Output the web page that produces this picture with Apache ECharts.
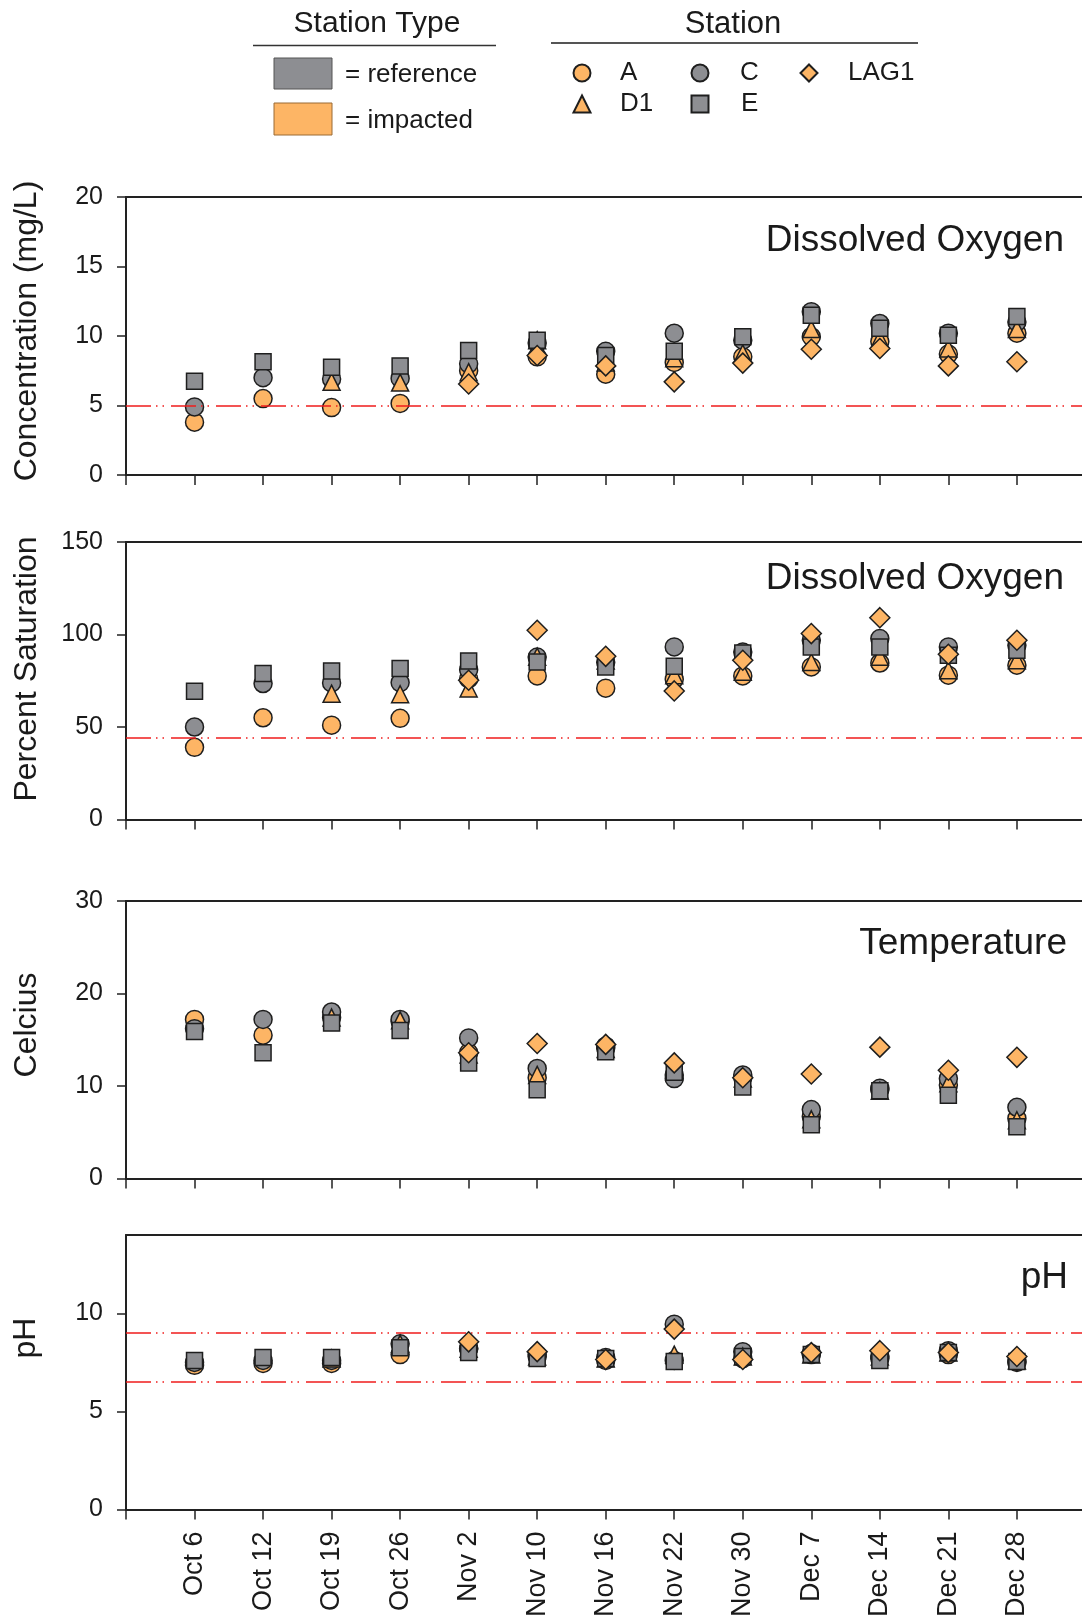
<!DOCTYPE html>
<html><head><meta charset="utf-8">
<script src="https://cdn.jsdelivr.net/npm/echarts@6/dist/echarts.min.js"></script>
<style>html,body{margin:0;padding:0;background:#fff}#c{width:1082px;height:1620px}</style>
</head><body><div id="c"></div>
<script>
// ---------- data ----------
const dates = ['Oct 6','Oct 12','Oct 19','Oct 26','Nov 2','Nov 10','Nov 16','Nov 22','Nov 30','Dec 7','Dec 14','Dec 21','Dec 28'];
const stations = ['A','C','D1','E','LAG1'];
const panelTitles = ['Dissolved Oxygen','Dissolved Oxygen','Temperature','pH'];
const axisTitles = ['Concentration (mg/L)','Percent Saturation','Celcius','pH'];
const yMax = [20, 150, 30, 14];
const yInterval = [5, 50, 10, 5];
const yTickValues = [[0,5,10,15,20],[0,50,100,150],[0,10,20,30],[0,5,10]];
const thresholds = [[5],[44],[],[9,6.5]];

// Dissolved oxygen, mg/L
const doA    = [3.8, 5.5, 4.85, 5.15, 7.5, 8.5, 7.25, 8.1, 8.5, 9.95, 9.6, 8.7, 10.2];
const doC    = [4.9, 7.0, 6.9, 6.95, 8.0, 9.5, 8.9, 10.2, 9.7, 11.75, 10.9, 10.2, 11.0];
const doD1   = [null, null, 6.7, 6.65, 7.4, 9.7, 8.1, 8.4, 8.75, 10.5, 9.8, 9.1, 10.5];
const doE    = [6.75, 8.15, 7.75, 7.85, 8.95, 9.7, 8.6, 8.9, 9.95, 11.5, 10.55, 10.05, 11.4];
const doLAG1 = [null, null, null, null, 6.55, 8.6, 7.85, 6.7, 8.05, 9.05, 9.1, 7.85, 8.15];
// Dissolved oxygen, % saturation
const satA    = [39, 55, 51, 54.7, 76, 77.6, 71, 75.8, 77.6, 82.5, 84.6, 78, 83.4];
const satC    = [50, 73.5, 73.8, 74, 81, 87.8, 85, 93.3, 90.5, 96.9, 97.8, 93.3, 94.2];
const satD1   = [null, null, 68, 67.7, 70.8, 88, 86, 78, 79.8, 85.1, 88, 80.7, 86.1];
const satE    = [69.3, 78.9, 80.3, 81.6, 85.7, 85.1, 82.5, 82.8, 90, 93.3, 93.3, 88.8, 91.5];
const satLAG1 = [null, null, null, null, 75.3, 102.3, 88.2, 69.5, 86.1, 100.5, 109.1, 89.3, 96.9];
// Temperature, Celcius
const tA    = [17.2, 15.5, 17.4, 17.0, 13.6, 10.9, 14.1, 11.2, 10.9, 6.7, 9.6, 10.1, 6.5];
const tC    = [16.2, 17.2, 18.0, 17.2, 15.2, 11.9, 14.3, 10.8, 11.2, 7.45, 9.75, 10.8, 7.7];
const tD1   = [null, null, 17.4, 17.1, 13.4, 11.2, 14.0, 11.6, 10.8, 6.4, 9.5, 10.3, 6.3];
const tE    = [15.9, 13.6, 16.8, 16.0, 12.5, 9.6, 13.7, 11.5, 9.9, 5.8, 9.5, 9.0, 5.6];
const tLAG1 = [null, null, null, null, 13.6, 14.6, 14.5, 12.5, 10.9, 11.3, 14.2, 11.7, 13.1];
// pH
const phA    = [7.35, 7.45, 7.45, 7.9, 8.2, 7.8, 7.6, 7.6, 7.7, 7.9, 7.7, 7.9, 7.5];
const phC    = [7.5, 7.6, 7.6, 8.45, 8.2, 7.9, 7.75, 9.45, 8.05, 7.95, 7.8, 8.1, 7.55];
const phD1   = [null, null, 7.7, 8.45, 8.2, 7.8, 7.7, 7.9, 7.8, 7.9, 7.8, 8.0, 7.6];
const phE    = [7.6, 7.75, 7.75, 8.25, 8.0, 7.7, 7.7, 7.55, 7.8, 7.9, 7.6, 8.0, 7.55];
const phLAG1 = [null, null, null, null, 8.55, 8.05, 7.65, 9.2, 7.65, 8.0, 8.1, 8.0, 7.8];

const panels = [
  [doA, doC, doD1, doE, doLAG1],
  [satA, satC, satD1, satE, satLAG1],
  [tA, tC, tD1, tE, tLAG1],
  [phA, phC, phD1, phE, phLAG1]
];

// ---------- styling ----------
const FONT = '"Liberation Sans", Arial, Helvetica, sans-serif';
const ORANGE = '#fdb565';
const GRAY = '#8d8e92';
const EDGE = '#1e1e1e';
const AX = '#222';
const symbolOf = {A:'circle', C:'circle', D1:'triangle', E:'rect', LAG1:'diamond'};
const sizeOf = {A:18, C:18, D1:17, E:16, LAG1:20};
const fillOf = {A:ORANGE, C:GRAY, D1:ORANGE, E:GRAY, LAG1:ORANGE};

const grids = [
  {left:126, top:197, width:956, height:278},
  {left:126, top:542, width:956, height:277.5},
  {left:126, top:901, width:956, height:277.5},
  {left:126, top:1235, width:956, height:278}
];
const titlePos = [[1064,241],[1064,579],[1067,944],[1068,1278]];
const axisTitlePos = [[27,331],[27,669],[27,1025],[26,1338]];

const xTicks = [0,1,2,3,4,5,6,7,8,9,10,11,12,13];
const xLabelVals = [1,2,3,4,5,6,7,8,9,10,11,12,13];

const xAxes = [], yAxes = [], series = [], graphics = [];
grids.forEach((g, k) => {
  xAxes.push({
    type:'value', gridIndex:k, min:0, max:13.95, interval:1, position:'bottom',
    axisLine:{show:true, onZero:false, lineStyle:{color:AX, width:2}},
    axisTick:{show:true, inside:false, length:10, lineStyle:{color:AX, width:1.5}, customValues:xTicks},
    axisLabel:{show:k===3, rotate:90, fontSize:27, fontFamily:FONT, color:'#1a1a1a', margin:22,
      customValues:xLabelVals, hideOverlap:false,
      formatter:(v)=> (Math.abs(v-Math.round(v))<1e-6 && v>=1 && v<=13) ? dates[Math.round(v)-1] : ''},
    splitLine:{show:false}
  });
  xAxes.push({
    type:'value', gridIndex:k, min:0, max:13.95, position:'top',
    axisLine:{show:true, onZero:false, lineStyle:{color:AX, width:2}},
    axisTick:{show:false}, axisLabel:{show:false}, splitLine:{show:false}
  });
  yAxes.push({
    type:'value', gridIndex:k, min:0, max:yMax[k], interval:yInterval[k],
    axisLine:{show:true, onZero:false, lineStyle:{color:AX, width:2}},
    axisTick:{show:true, inside:false, length:9, lineStyle:{color:AX, width:1.5}, customValues:yTickValues[k]},
    axisLabel:{fontSize:25, fontFamily:FONT, color:'#1a1a1a', margin:23, customValues:yTickValues[k]},
    splitLine:{show:false}
  });
  // threshold lines
  series.push({
    type:'line', xAxisIndex:2*k, yAxisIndex:k, data:[], z:1, silent:true,
    markLine:{silent:true, symbol:['none','none'], label:{show:false},
      lineStyle:{color:'#f01d1d', width:1.5, type:[25,5,1.5,5,1.5,7]},
      data: thresholds[k].map(v=>({yAxis:v}))}
  });
  stations.forEach((s, j) => {
    const vals = panels[k][j];
    const data = [];
    vals.forEach((v, i) => { if (v !== null) data.push([i+1, v]); });
    series.push({
      name:s, type:'scatter', xAxisIndex:2*k, yAxisIndex:k, data:data, z:3+j,
      symbol:symbolOf[s], symbolSize:sizeOf[s],
      itemStyle:{color:fillOf[s], borderColor:EDGE, borderWidth:1.5, opacity:1},
      emphasis:{disabled:true}
    });
  });
  graphics.push({type:'text', x:titlePos[k][0], y:titlePos[k][1],
    style:{text:panelTitles[k], font:'37px '+FONT, fill:'#1a1a1a', textAlign:'right', textVerticalAlign:'middle'}});
  graphics.push({type:'text', x:axisTitlePos[k][0], y:axisTitlePos[k][1], rotation:Math.PI/2,
    style:{text:axisTitles[k], font:'32px '+FONT, fill:'#1a1a1a', textAlign:'center', textVerticalAlign:'middle'}});
});

// Station Type legend (drawn)
graphics.push(
  {type:'text', x:377, y:24, style:{text:'Station Type', font:'30px '+FONT, fill:'#1a1a1a', textAlign:'center', textVerticalAlign:'middle'}},
  {type:'line', shape:{x1:253, y1:45.5, x2:496, y2:45.5}, style:{stroke:'#333', lineWidth:1.5}},
  {type:'text', x:733, y:24, style:{text:'Station', font:'31px '+FONT, fill:'#1a1a1a', textAlign:'center', textVerticalAlign:'middle'}},
  {type:'line', shape:{x1:551, y1:43, x2:918, y2:43}, style:{stroke:'#555', lineWidth:2}},
  {type:'rect', shape:{x:274, y:58, width:58, height:31}, style:{fill:GRAY, stroke:'#555', lineWidth:1}},
  {type:'rect', shape:{x:274, y:103, width:58, height:32}, style:{fill:ORANGE, stroke:'#9a6a35', lineWidth:1}},
  {type:'text', x:345, y:75, style:{text:'= reference', font:'26px '+FONT, fill:'#1a1a1a', textAlign:'left', textVerticalAlign:'middle'}},
  {type:'text', x:345, y:121, style:{text:'= impacted', font:'26px '+FONT, fill:'#1a1a1a', textAlign:'left', textVerticalAlign:'middle'}}
);

// Station legend: one ECharts legend per item
const legendPos = {A:[576,68,614], C:[694,68,734], LAG1:[803,68,842], D1:[576,99,614], E:[694,99,735]};
const legends = stations.map(s => {
  const p = legendPos[s];
  const iw = 17;
  const left = p[0] - iw/2;
  return {
    data:[s], left:left, top:p[1]-15, itemWidth:iw, itemHeight:iw, selectedMode:false,
    icon: symbolOf[s],
    textStyle:{fontSize:26, fontFamily:FONT, color:'#1a1a1a', lineHeight:30, padding:[0,0,0, p[2] - (left+iw+5)]}
  };
});

const chart = echarts.init(document.getElementById('c'), null, {renderer:'canvas'});
chart.setOption({
  animation:false,
  backgroundColor:'#fff',
  grid:grids.map(g=>Object.assign({containLabel:false}, g)),
  xAxis:xAxes, yAxis:yAxes, series:series, legend:legends,
  graphic:graphics
});
</script></body></html>
